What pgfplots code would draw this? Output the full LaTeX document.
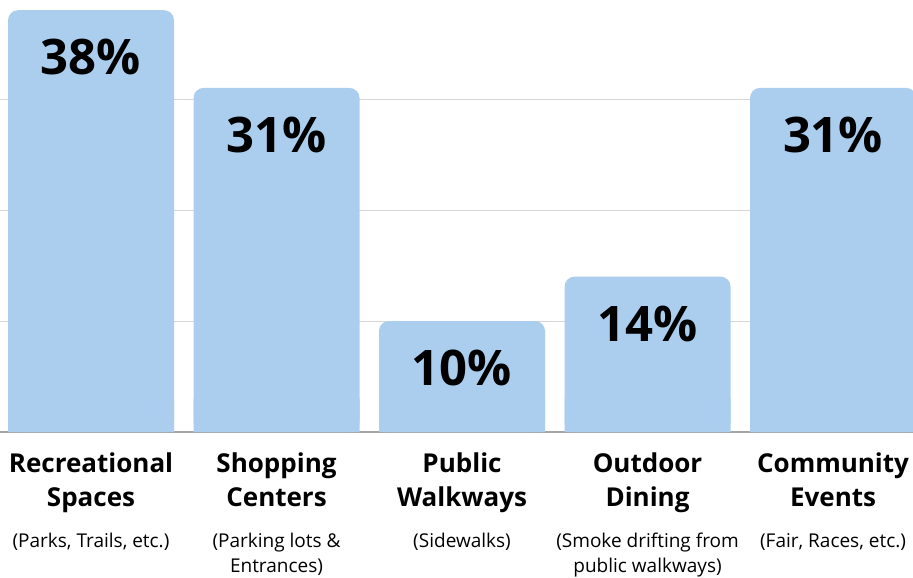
\documentclass[border=0pt]{standalone}
\usepackage{pgfplots}
\pgfplotsset{compat=1.18}
\usepackage{fontspec}
\setmainfont{Open Sans}
\definecolor{barblue}{RGB}{171,206,239}
\definecolor{gridgray}{RGB}{214,214,214}
\definecolor{basegray}{RGB}{165,165,165}
\newcommand{\catname}{\fontsize{26}{34}\selectfont\bfseries}
\newcommand{\catsub}{\fontsize{19}{25}\selectfont\mdseries}

\begin{document}
\begin{tikzpicture}
\begin{axis}[
  at={(0,0)}, anchor=south west,
  scale only axis, width=913pt, height=432pt,
  xmin=-0.4906, xmax=4.431, ymin=0, ymax=38.92,
  /pgf/number format/assume math mode=true,
  axis line style={draw=none},
  major tick length=0pt,
  ytick={10,20,30}, yticklabels={},
  ymajorgrids, major grid style={draw=gridgray, line width=0.8pt},
  extra y ticks={0}, extra y tick labels={},
  extra y tick style={ymajorgrids=true, major grid style={draw=basegray, line width=1.5pt}},
  xtick={0,1,2,3,4},
  xticklabels={
    {\catname Recreational\\\catname Spaces\\[7pt]\catsub (Parks, Trails, etc.)},
    {\catname Shopping\\\catname Centers\\[7pt]\catsub (Parking lots \&\\[-9pt]\catsub Entrances)},
    {\catname Public\\\catname Walkways\\[7pt]\catsub (Sidewalks)},
    {\catname Outdoor\\\catname Dining\\[7pt]\catsub (Smoke drifting from\\[-9pt]\catsub public walkways)},
    {\catname Community\\\catname Events\\[7pt]\catsub (Fair, Races, etc.)}
  },
  xticklabel style={align=center, anchor=north, yshift=-17pt, font=\catname},
]
% square feet under the rounded bars
\addplot[ybar, bar width=166pt, fill=barblue, draw=none]
  coordinates {(0,3) (1,3) (2,3) (3,3) (4,3)};
\addplot[ybar, bar width=166pt, fill=barblue, draw=none, rounded corners=10pt,
  nodes near coords={\pgfmathprintnumber{\pgfplotspointmeta}\%},
  every node near coord/.append style={anchor=center, yshift=-47pt,
    font=\fontsize{49}{49}\selectfont\bfseries, text=black}]
  coordinates {(0,38) (1,31) (2,10) (3,14) (4,31)};
\end{axis}
\pgfresetboundingbox
\path[use as bounding box] (0,-146pt) rectangle (913pt,432pt);
\end{tikzpicture}
\end{document}
